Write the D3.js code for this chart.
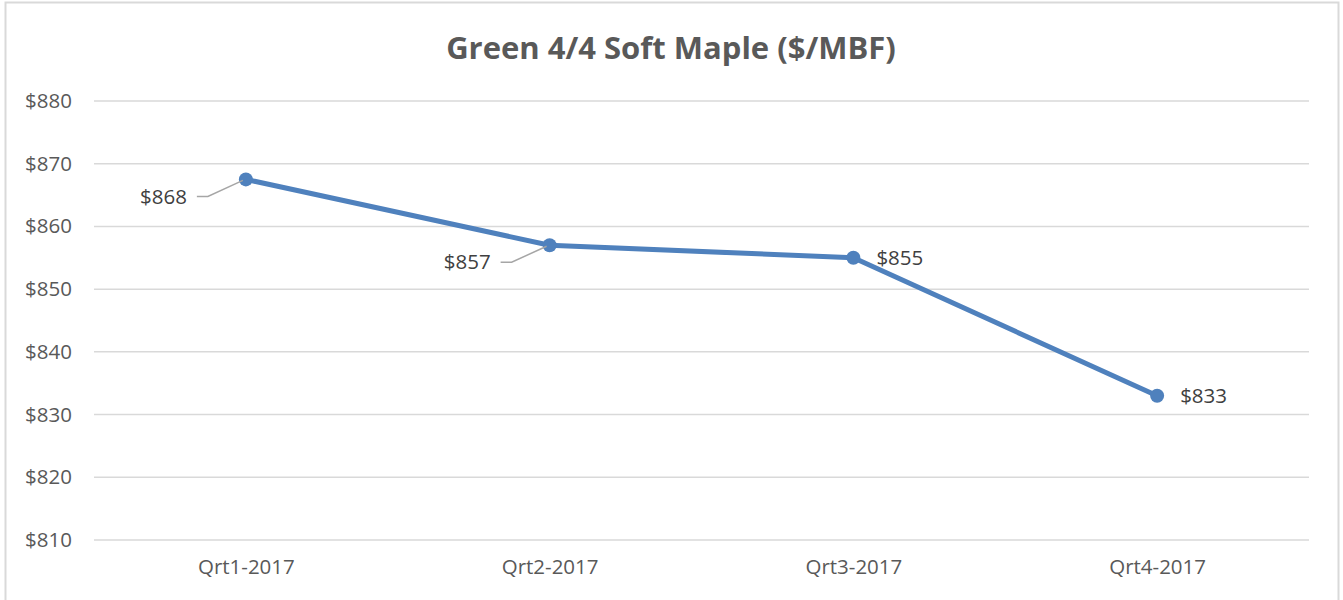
<!DOCTYPE html>
<html>
<head>
<meta charset="utf-8">
<script src="https://cdn.jsdelivr.net/npm/d3@7"></script>
<style>
  html, body { margin: 0; padding: 0; background: #fff; }
  svg text { font-family: "Open Sans", "Noto Sans", sans-serif; }
</style>
</head>
<body>
<div id="chart"></div>
<script>
const quarters = ["Qrt1-2017", "Qrt2-2017", "Qrt3-2017", "Qrt4-2017"];
const prices = [867.5, 857, 855, 833];
const yTicks = [810, 820, 830, 840, 850, 860, 870, 880];
const labelSide = ["left", "left", "right", "right"];

const W = 1343, H = 600;
const plot = { left: 94, right: 1309, top: 101, bottom: 540 };

const svg = d3.select("#chart")
    .append("svg")
    .attr("width", W)
    .attr("height", H);

// chart frame (bottom is cut off in the picture)
svg.append("path")
    .attr("d", `M5.5,${H} V2.5 H1338.5 V${H}`)
    .attr("fill", "none")
    .attr("stroke", "#d9d9d9")
    .attr("stroke-width", 2);

const x = d3.scalePoint()
    .domain(quarters)
    .range([plot.left, plot.right])
    .padding(0.5);

const y = d3.scaleLinear()
    .domain([810, 880])
    .range([plot.bottom, plot.top]);

// gridlines
svg.append("g")
    .selectAll("line")
    .data(yTicks)
    .join("line")
    .attr("x1", plot.left)
    .attr("x2", plot.right)
    .attr("y1", d => y(d))
    .attr("y2", d => y(d))
    .attr("stroke", "#d9d9d9")
    .attr("stroke-width", 1.5);

// y axis labels
const yAxis = d3.axisLeft(y)
    .tickValues(yTicks)
    .tickSize(0)
    .tickPadding(0)
    .tickFormat(d => "$" + d);

svg.append("g")
    .attr("transform", `translate(72,0)`)
    .call(yAxis)
    .call(g => g.select(".domain").remove())
    .selectAll("text")
    .attr("font-size", 20.5)
    .attr("fill", "#595959")
    .attr("font-family", "Open Sans");

// x axis labels
const xAxis = d3.axisBottom(x).tickSize(0).tickPadding(0);
svg.append("g")
    .attr("transform", `translate(0,${plot.bottom + 19})`)
    .call(xAxis)
    .call(g => g.select(".domain").remove())
    .selectAll("text")
    .attr("font-size", 20.5)
    .attr("fill", "#595959")
    .attr("font-family", "Open Sans");

const data = quarters.map((q, i) => ({ q, v: prices[i], side: labelSide[i] }));

// line
const line = d3.line()
    .x(d => x(d.q))
    .y(d => y(d.v));

svg.append("path")
    .datum(data)
    .attr("fill", "none")
    .attr("stroke", "#4f81bd")
    .attr("stroke-width", 5)
    .attr("stroke-linejoin", "round")
    .attr("d", line);

svg.append("g")
    .selectAll("circle")
    .data(data)
    .join("circle")
    .attr("cx", d => x(d.q))
    .attr("cy", d => y(d.v))
    .attr("r", 7)
    .attr("fill", "#4f81bd");

// leader lines for the labels placed left
svg.append("g")
    .selectAll("path")
    .data(data.filter(d => d.side === "left"))
    .join("path")
    .attr("d", d => {
        const px = x(d.q), py = y(d.v);
        return `M${px - 49},${py + 17} H${px - 38} L${px - 3},${py + 1}`;
    })
    .attr("fill", "none")
    .attr("stroke", "#a6a6a6")
    .attr("stroke-width", 1.5);

// data labels
svg.append("g")
    .selectAll("text")
    .data(data)
    .join("text")
    .attr("x", d => d.side === "left" ? x(d.q) - 59 : x(d.q) + 23)
    .attr("y", d => d.side === "left" ? y(d.v) + 17 : y(d.v))
    .attr("dy", "0.35em")
    .attr("text-anchor", d => d.side === "left" ? "end" : "start")
    .attr("font-size", 20.5)
    .attr("fill", "#404040")
    .text(d => "$" + Math.round(d.v));

// title
svg.append("text")
    .attr("x", 671)
    .attr("y", 48)
    .attr("dy", "0.35em")
    .attr("text-anchor", "middle")
    .attr("font-size", 31)
    .attr("font-weight", "bold")
    .attr("fill", "#595959")
    .text("Green 4/4 Soft Maple ($/MBF)");
</script>
</body>
</html>
